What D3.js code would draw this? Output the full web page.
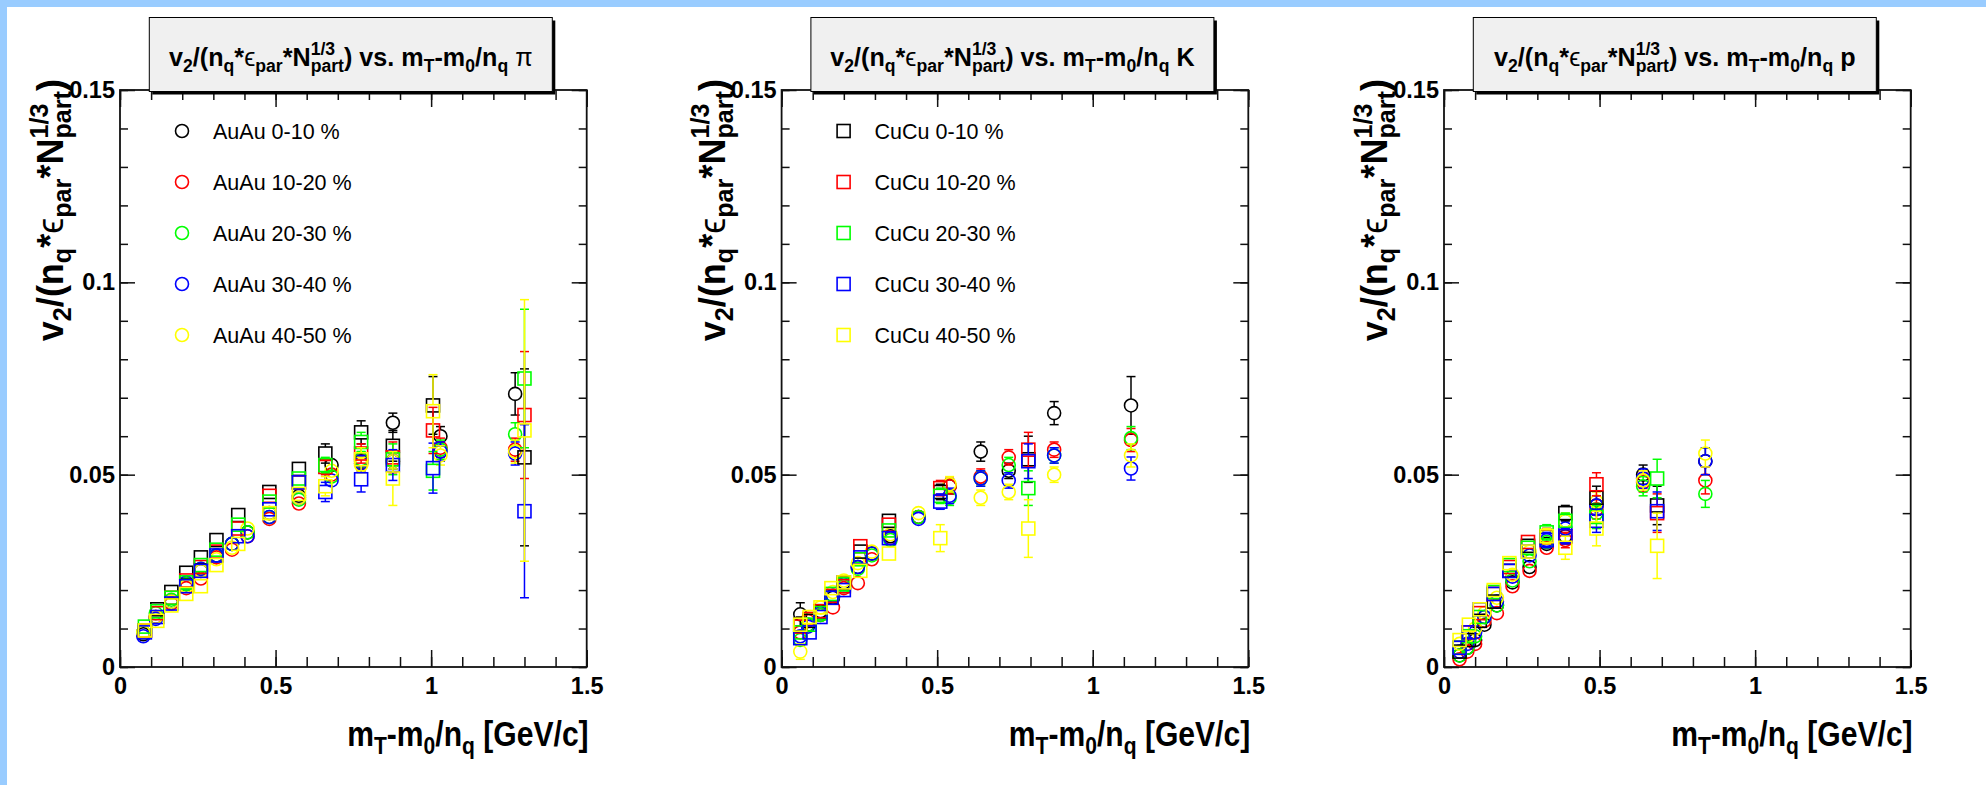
<!DOCTYPE html>
<html><head><meta charset="utf-8">
<script src="https://cdn.jsdelivr.net/npm/d3@7"></script>
<style>
html,body{margin:0;padding:0;background:#99ccff;overflow:hidden;}
svg{display:block;}
svg text{white-space:pre;}
</style></head><body>
<svg id="c" width="1986" height="785"></svg>
<script>
// ---------------- DATA ----------------
const centralities = ["0-10 %", "10-20 %", "20-30 %", "30-40 %", "40-50 %"];
const seriesColors = ["#000000", "#ff0000", "#00ff00", "#0000ff", "#ffff00"];
const xTickValues = [0, 0.5, 1, 1.5];
const yTickValues = [0, 0.05, 0.1, 0.15];
const particles = ["π", "K", "p"];

// pions: AuAu (circles)
const piAuAuX = [0.075, 0.115, 0.165, 0.213, 0.26, 0.31, 0.36, 0.41, 0.48, 0.575, 0.68, 0.775, 0.877, 1.03, 1.27];
const piAuAuV = [
  [0.0085, 0.013, 0.017, 0.0215, 0.025, 0.029, 0.032, 0.035, 0.040, 0.0445, 0.0525, 0.0535, 0.0635, 0.060, 0.071],
  [0.009, 0.013, 0.0165, 0.0205, 0.023, 0.0285, 0.0305, 0.034, 0.0385, 0.0425, 0.050, 0.053, 0.0535, 0.057, 0.0565],
  [0.009, 0.014, 0.0175, 0.0215, 0.0255, 0.029, 0.032, 0.035, 0.039, 0.0435, 0.0495, 0.054, 0.0535, 0.0565, 0.0605],
  [0.008, 0.0125, 0.017, 0.022, 0.0255, 0.029, 0.032, 0.034, 0.039, 0.044, 0.0485, 0.053, 0.0535, 0.056, 0.0555],
  [0.009, 0.013, 0.017, 0.021, 0.025, 0.028, 0.031, 0.036, 0.040, 0.044, 0.051, 0.0525, 0.0535, 0.055, 0.056]
];
const piAuAuE = [
  [0.0005, 0.0005, 0.0005, 0.0005, 0.0006, 0.0006, 0.0007, 0.0008, 0.001, 0.0012, 0.0015, 0.002, 0.0025, 0.0025, 0.0055],
  [0.0005, 0.0005, 0.0005, 0.0005, 0.0006, 0.0006, 0.0007, 0.0008, 0.001, 0.0012, 0.0015, 0.002, 0.002, 0.0025, 0.003],
  [0.0005, 0.0005, 0.0005, 0.0005, 0.0006, 0.0006, 0.0007, 0.0008, 0.001, 0.0012, 0.0015, 0.002, 0.002, 0.0025, 0.003],
  [0.0005, 0.0005, 0.0005, 0.0005, 0.0006, 0.0006, 0.0007, 0.0008, 0.001, 0.0012, 0.0015, 0.002, 0.002, 0.0025, 0.003],
  [0.0005, 0.0005, 0.0005, 0.0005, 0.0006, 0.0006, 0.0007, 0.0008, 0.001, 0.0012, 0.0015, 0.002, 0.002, 0.0025, 0.003]
];
// pions: CuCu (squares)
const piCuCuX = [0.08, 0.12, 0.165, 0.213, 0.26, 0.31, 0.38, 0.48, 0.575, 0.66, 0.775, 0.877, 1.006, 1.30];
const piCuCuV = [
  [0.0095, 0.015, 0.0195, 0.0245, 0.0285, 0.033, 0.0395, 0.0455, 0.0515, 0.0555, 0.061, 0.0575, 0.068, 0.0545],
  [0.0095, 0.014, 0.018, 0.0225, 0.026, 0.030, 0.036, 0.0445, 0.048, 0.052, 0.0555, 0.0545, 0.0615, 0.0655],
  [0.0105, 0.0145, 0.018, 0.022, 0.0265, 0.0305, 0.037, 0.043, 0.049, 0.0525, 0.0585, 0.054, 0.051, 0.075],
  [0.009, 0.013, 0.0165, 0.021, 0.025, 0.029, 0.034, 0.041, 0.048, 0.0455, 0.0488, 0.0525, 0.0517, 0.0405],
  [0.0095, 0.012, 0.016, 0.019, 0.021, 0.0265, 0.032, 0.040, 0.045, 0.047, 0.054, 0.049, 0.0665, 0.0615]
];
const piCuCuE = [
  [0.0005, 0.0005, 0.0005, 0.0006, 0.0007, 0.0008, 0.001, 0.0012, 0.0015, 0.0025, 0.003, 0.004, 0.0075, 0.023],
  [0.0005, 0.0005, 0.0005, 0.0006, 0.0007, 0.0008, 0.001, 0.0012, 0.0015, 0.002, 0.0025, 0.004, 0.006, 0.0165],
  [0.0005, 0.0005, 0.0005, 0.0006, 0.0007, 0.0008, 0.001, 0.0012, 0.0015, 0.002, 0.0025, 0.004, 0.005, 0.018],
  [0.0005, 0.0005, 0.0005, 0.0006, 0.0007, 0.0008, 0.001, 0.0012, 0.0015, 0.0025, 0.0033, 0.004, 0.0065, 0.0225],
  [0.0005, 0.0005, 0.0005, 0.0006, 0.0007, 0.0008, 0.001, 0.0012, 0.0015, 0.0025, 0.003, 0.007, 0.0095, 0.034]
];

// kaons: AuAu (circles)
const kAuAuX = [0.06, 0.085, 0.125, 0.165, 0.2, 0.245, 0.29, 0.35, 0.44, 0.54, 0.64, 0.73, 0.876, 1.123];
const kAuAuV = [
  [0.0137, 0.011, 0.0145, 0.018, 0.022, 0.026, 0.0295, 0.034, 0.039, 0.047, 0.056, 0.051, 0.066, 0.068],
  [0.009, 0.012, 0.0135, 0.0155, 0.0205, 0.0218, 0.028, 0.0335, 0.039, 0.047, 0.0495, 0.0545, 0.0565, 0.059],
  [0.007, 0.011, 0.0135, 0.0185, 0.021, 0.0255, 0.029, 0.033, 0.039, 0.044, 0.049, 0.0525, 0.055, 0.0595],
  [0.008, 0.0105, 0.014, 0.0185, 0.0215, 0.026, 0.0295, 0.0335, 0.0385, 0.0445, 0.049, 0.0485, 0.055, 0.0516],
  [0.004, 0.0125, 0.0155, 0.0195, 0.0225, 0.027, 0.030, 0.0345, 0.040, 0.0475, 0.044, 0.0455, 0.050, 0.055]
];
const kAuAuE = [
  [0.003, 0.001, 0.001, 0.001, 0.001, 0.001, 0.001, 0.0012, 0.0015, 0.002, 0.0025, 0.002, 0.003, 0.0075],
  [0.001, 0.001, 0.001, 0.001, 0.001, 0.001, 0.001, 0.0012, 0.0015, 0.002, 0.002, 0.002, 0.002, 0.003],
  [0.001, 0.001, 0.001, 0.001, 0.001, 0.001, 0.001, 0.0012, 0.0015, 0.002, 0.002, 0.002, 0.002, 0.003],
  [0.001, 0.001, 0.001, 0.001, 0.001, 0.001, 0.001, 0.0012, 0.0015, 0.002, 0.002, 0.002, 0.002, 0.003],
  [0.002, 0.001, 0.001, 0.001, 0.001, 0.001, 0.001, 0.0012, 0.0015, 0.002, 0.002, 0.002, 0.002, 0.003]
];
// kaons: CuCu (squares)
const kCuCuX = [0.06, 0.09, 0.125, 0.16, 0.2, 0.253, 0.345, 0.51, 0.793];
const kCuCuV = [
  [0.011, 0.012, 0.0145, 0.018, 0.022, 0.030, 0.038, 0.0455, 0.054],
  [0.0105, 0.0125, 0.0145, 0.0185, 0.021, 0.0314, 0.037, 0.0465, 0.0565],
  [0.009, 0.011, 0.014, 0.019, 0.0215, 0.028, 0.0355, 0.0445, 0.0465],
  [0.0075, 0.009, 0.013, 0.018, 0.020, 0.0285, 0.0335, 0.043, 0.0535],
  [0.011, 0.013, 0.0155, 0.0205, 0.022, 0.025, 0.0295, 0.0335, 0.036]
];
const kCuCuE = [
  [0.002, 0.001, 0.001, 0.001, 0.001, 0.001, 0.0012, 0.002, 0.006],
  [0.001, 0.001, 0.001, 0.001, 0.001, 0.001, 0.0012, 0.002, 0.0045],
  [0.001, 0.001, 0.001, 0.001, 0.001, 0.001, 0.0012, 0.002, 0.0045],
  [0.001, 0.001, 0.001, 0.001, 0.001, 0.001, 0.0012, 0.002, 0.0045],
  [0.001, 0.001, 0.001, 0.001, 0.001, 0.001, 0.0015, 0.0035, 0.0075]
];

// protons: AuAu (circles)
const pAuAuX = [0.05, 0.075, 0.1, 0.13, 0.17, 0.22, 0.275, 0.33, 0.39, 0.49, 0.64, 0.84];
const pAuAuV = [
  [0.003, 0.005, 0.007, 0.011, 0.016, 0.022, 0.026, 0.032, 0.034, 0.042, 0.050, 0.0535],
  [0.002, 0.004, 0.006, 0.012, 0.014, 0.021, 0.025, 0.031, 0.033, 0.041, 0.048, 0.0485],
  [0.003, 0.005, 0.008, 0.013, 0.016, 0.0225, 0.0275, 0.0325, 0.038, 0.040, 0.047, 0.045],
  [0.004, 0.006, 0.009, 0.013, 0.017, 0.0235, 0.029, 0.033, 0.036, 0.042, 0.049, 0.0535],
  [0.006, 0.008, 0.010, 0.014, 0.018, 0.024, 0.030, 0.034, 0.038, 0.043, 0.0485, 0.0555]
];
const pAuAuE = [
  [0.0008, 0.0008, 0.001, 0.001, 0.001, 0.0012, 0.0012, 0.0015, 0.002, 0.0025, 0.0025, 0.0035],
  [0.0008, 0.0008, 0.001, 0.001, 0.001, 0.0012, 0.0012, 0.0015, 0.002, 0.0025, 0.0025, 0.0035],
  [0.0008, 0.0008, 0.001, 0.001, 0.001, 0.0012, 0.0012, 0.0015, 0.002, 0.0025, 0.0025, 0.0035],
  [0.0008, 0.0008, 0.001, 0.001, 0.001, 0.0012, 0.0012, 0.0015, 0.002, 0.0025, 0.0025, 0.0035],
  [0.0008, 0.0008, 0.001, 0.001, 0.001, 0.0012, 0.0012, 0.0015, 0.002, 0.0025, 0.0025, 0.0035]
];
// protons: CuCu (squares)
const pCuCuX = [0.05, 0.08, 0.115, 0.16, 0.21, 0.27, 0.33, 0.39, 0.49, 0.685];
const pCuCuV = [
  [0.004, 0.007, 0.012, 0.017, 0.025, 0.0315, 0.034, 0.040, 0.044, 0.042],
  [0.005, 0.009, 0.014, 0.019, 0.026, 0.0325, 0.034, 0.034, 0.0475, 0.040],
  [0.005, 0.008, 0.013, 0.0195, 0.0265, 0.031, 0.035, 0.038, 0.039, 0.049],
  [0.005, 0.009, 0.015, 0.019, 0.025, 0.030, 0.033, 0.034, 0.038, 0.0405],
  [0.007, 0.011, 0.015, 0.020, 0.027, 0.030, 0.034, 0.031, 0.036, 0.0315]
];
const pCuCuE = [
  [0.001, 0.001, 0.001, 0.0012, 0.0015, 0.0015, 0.002, 0.002, 0.003, 0.005],
  [0.001, 0.001, 0.001, 0.0012, 0.0015, 0.0015, 0.002, 0.002, 0.003, 0.005],
  [0.001, 0.001, 0.001, 0.0012, 0.0015, 0.0015, 0.002, 0.002, 0.003, 0.005],
  [0.001, 0.001, 0.001, 0.0012, 0.0015, 0.0015, 0.002, 0.002, 0.003, 0.005],
  [0.001, 0.001, 0.001, 0.0012, 0.0015, 0.0015, 0.002, 0.003, 0.0045, 0.0085]
];

// ---------------- LAYOUT ----------------
const W = 1986, H = 785;
const FONT = "'Liberation Sans', Arial, Helvetica, sans-serif";
const PANEL_LEFT = [120, 781.6, 1444];
const PANEL_W = 466.7;
const TOP = 90, BOTTOM = 667;

const svg = d3.select("#c");
svg.append("rect").attr("x", 7).attr("y", 7).attr("width", W - 7).attr("height", H - 7).attr("fill", "#ffffff");

// rich text: runs of {t, s(size factor), dy(shift, em of base, up positive), w(weight), stack}
function rich(g, runs, base) {
  let cx = 0, lastStart = 0;
  runs.forEach(r => {
    const fs = base * (r.s || 1);
    const x = r.stack ? lastStart : cx;
    const el = g.append("text")
      .attr("x", x).attr("y", -(r.dy || 0) * base)
      .attr("font-family", FONT).attr("font-size", fs)
      .attr("font-weight", r.w || "bold").attr("fill", "#000")
      .text(r.t);
    const w = el.node().getComputedTextLength();
    if (r.stack) cx = Math.max(cx, lastStart + w);
    else { lastStart = x; cx = x + w; }
  });
  return cx;
}
const SUBD = -0.22, SUPD = 0.42, SS = 0.7;
const yLabelRuns = [
  {t: "v"}, {t: "2", s: SS, dy: SUBD}, {t: "/(n"}, {t: "q", s: SS, dy: SUBD}, {t: "*"},
  {t: "ϵ", w: "normal"}, {t: "par", s: SS, dy: SUBD}, {t: "*"}, {t: "N"},
  {t: "1/3", s: SS, dy: SUPD}, {t: "part", s: SS, dy: SUBD, stack: true}, {t: ")"}
];
const xTitleRuns = [
  {t: "m"}, {t: "T", s: SS, dy: SUBD}, {t: "-m"}, {t: "0", s: SS, dy: SUBD}, {t: "/n"},
  {t: "q", s: SS, dy: SUBD}, {t: " [GeV/c]"}
];
function titleRuns(part) {
  return yLabelRuns.concat([
    {t: " vs. m"}, {t: "T", s: SS, dy: SUBD}, {t: "-m"}, {t: "0", s: SS, dy: SUBD}, {t: "/n"},
    {t: "q", s: SS, dy: SUBD},
    part === "π" ? {t: " π", w: "normal"} : {t: " " + part}
  ]);
}

const panels = [
  {part: particles[0], au: [piAuAuX, piAuAuV, piAuAuE], cu: [piCuCuX, piCuCuV, piCuCuE], legend: "AuAu"},
  {part: particles[1], au: [kAuAuX, kAuAuV, kAuAuE], cu: [kCuCuX, kCuCuV, kCuCuE], legend: "CuCu"},
  {part: particles[2], au: [pAuAuX, pAuAuV, pAuAuE], cu: [pCuCuX, pCuCuV, pCuCuE], legend: null}
];

const fmtY = v => v === 0 ? "0" : String(+v.toFixed(2));
const fmtX = v => String(+v.toFixed(1));
const R = 6.5;

function marker(g, type, cx, cy, color) {
  if (type === "circle") {
    g.append("circle").attr("cx", cx).attr("cy", cy).attr("r", R)
      .attr("fill", "none").attr("stroke", color).attr("stroke-width", 1.6);
  } else {
    g.append("rect").attr("x", cx - R).attr("y", cy - R).attr("width", 2 * R).attr("height", 2 * R)
      .attr("fill", "none").attr("stroke", color).attr("stroke-width", 1.6);
  }
}

panels.forEach((p, i) => {
  const x0 = PANEL_LEFT[i], x1 = x0 + PANEL_W;
  const x = d3.scaleLinear().domain([0, 1.5]).range([x0, x1]);
  const y = d3.scaleLinear().domain([0, 0.15]).range([BOTTOM, TOP]);
  const g = svg.append("g");

  const minorX = d3.range(0, 16).map(k => k / 10);
  const minorY = d3.range(0, 16).map(k => k / 100);

  function styleAxis(sel) {
    sel.select(".domain").remove();
    sel.selectAll("line").attr("stroke", "#111").attr("stroke-width", 1.5);
    sel.selectAll("text").attr("font-family", FONT).attr("font-weight", "bold")
      .attr("font-size", 23.5).attr("fill", "#000");
  }
  // bottom
  g.append("g").attr("transform", `translate(0,${BOTTOM})`)
    .call(d3.axisBottom(x).tickValues(minorX).tickSize(-10).tickSizeOuter(0).tickFormat(""))
    .call(styleAxis);
  g.append("g").attr("transform", `translate(0,${BOTTOM})`)
    .call(d3.axisBottom(x).tickValues(xTickValues).tickSize(-17).tickSizeOuter(0).tickPadding(10).tickFormat(fmtX))
    .call(styleAxis);
  // top
  g.append("g").attr("transform", `translate(0,${TOP})`)
    .call(d3.axisTop(x).tickValues(minorX).tickSize(-10).tickSizeOuter(0).tickFormat(""))
    .call(styleAxis);
  g.append("g").attr("transform", `translate(0,${TOP})`)
    .call(d3.axisTop(x).tickValues(xTickValues).tickSize(-17).tickSizeOuter(0).tickFormat(""))
    .call(styleAxis);
  // left
  g.append("g").attr("transform", `translate(${x0},0)`)
    .call(d3.axisLeft(y).tickValues(minorY).tickSize(-8).tickSizeOuter(0).tickFormat(""))
    .call(styleAxis);
  g.append("g").attr("transform", `translate(${x0},0)`)
    .call(d3.axisLeft(y).tickValues(yTickValues).tickSize(-15).tickSizeOuter(0).tickPadding(5).tickFormat(fmtY))
    .call(styleAxis);
  // right
  g.append("g").attr("transform", `translate(${x1},0)`)
    .call(d3.axisRight(y).tickValues(minorY).tickSize(-8).tickSizeOuter(0).tickFormat(""))
    .call(styleAxis);
  g.append("g").attr("transform", `translate(${x1},0)`)
    .call(d3.axisRight(y).tickValues(yTickValues).tickSize(-15).tickSizeOuter(0).tickFormat(""))
    .call(styleAxis);

  // frame
  g.append("rect").attr("x", x0).attr("y", TOP).attr("width", PANEL_W).attr("height", BOTTOM - TOP)
    .attr("fill", "none").attr("stroke", "#111").attr("stroke-width", 1.8);

  // data
  const dg = g.append("g");
  [["circle", p.au], ["square", p.cu]].forEach(([type, [xs, vs, es]]) => {
    vs.forEach((vals, si) => {
      const col = seriesColors[si];
      vals.forEach((v, k) => {
        const cx = x(xs[k]), cy = y(v);
        const e = es[si][k];
        const yt = y(v + e), yb = y(v - e);
        if (cy - yt > R) {
          dg.append("line").attr("x1", cx).attr("x2", cx).attr("y1", yt).attr("y2", cy - R)
            .attr("stroke", col).attr("stroke-width", 1.5);
          dg.append("line").attr("x1", cx - 4.5).attr("x2", cx + 4.5).attr("y1", yt).attr("y2", yt)
            .attr("stroke", col).attr("stroke-width", 1.5);
        }
        if (yb - cy > R) {
          dg.append("line").attr("x1", cx).attr("x2", cx).attr("y1", cy + R).attr("y2", yb)
            .attr("stroke", col).attr("stroke-width", 1.5);
          dg.append("line").attr("x1", cx - 4.5).attr("x2", cx + 4.5).attr("y1", yb).attr("y2", yb)
            .attr("stroke", col).attr("stroke-width", 1.5);
        }
        marker(dg, type, cx, cy, col);
      });
    });
  });

  // legend
  if (p.legend) {
    const type = p.legend === "AuAu" ? "circle" : "square";
    centralities.forEach((c, si) => {
      const ly = 131 + si * 51;
      marker(g, type, x0 + 62, ly, seriesColors[si]);
      g.append("text").attr("x", x0 + 93).attr("y", ly + 7.5)
        .attr("font-family", FONT).attr("font-size", 21.5).attr("fill", "#000")
        .text(p.legend + " " + c);
    });
  }

  // title box
  const bx = x0 + 29.3, by = 17.5, bw = 403, bh = 74;
  g.append("rect").attr("x", bx + 3).attr("y", by + 3).attr("width", bw).attr("height", bh).attr("fill", "#000");
  g.append("rect").attr("x", bx).attr("y", by).attr("width", bw).attr("height", bh)
    .attr("fill", "#f0f0f0").attr("stroke", "#000").attr("stroke-width", 1);
  const tg = g.append("g");
  const tw = rich(tg, titleRuns(p.part), 26.5);
  const tsx = 0.95;
  tg.attr("transform", `translate(${bx + bw / 2 - tw * tsx / 2},${66}) scale(${tsx},1)`);

  // x title (right aligned)
  const xg = g.append("g");
  const xw = rich(xg, xTitleRuns, 35);
  const xsx = 0.86;
  xg.attr("transform", `translate(${x1 + 2 - xw * xsx},${746}) scale(${xsx},1)`);

  // y title (rotated, right aligned at top)
  const yg = g.append("g");
  const yw = rich(yg, yLabelRuns, 36);
  yg.attr("transform", `translate(${x0 - 57},${79}) rotate(-90) translate(${-yw},0)`);
});
</script>
</body></html>
